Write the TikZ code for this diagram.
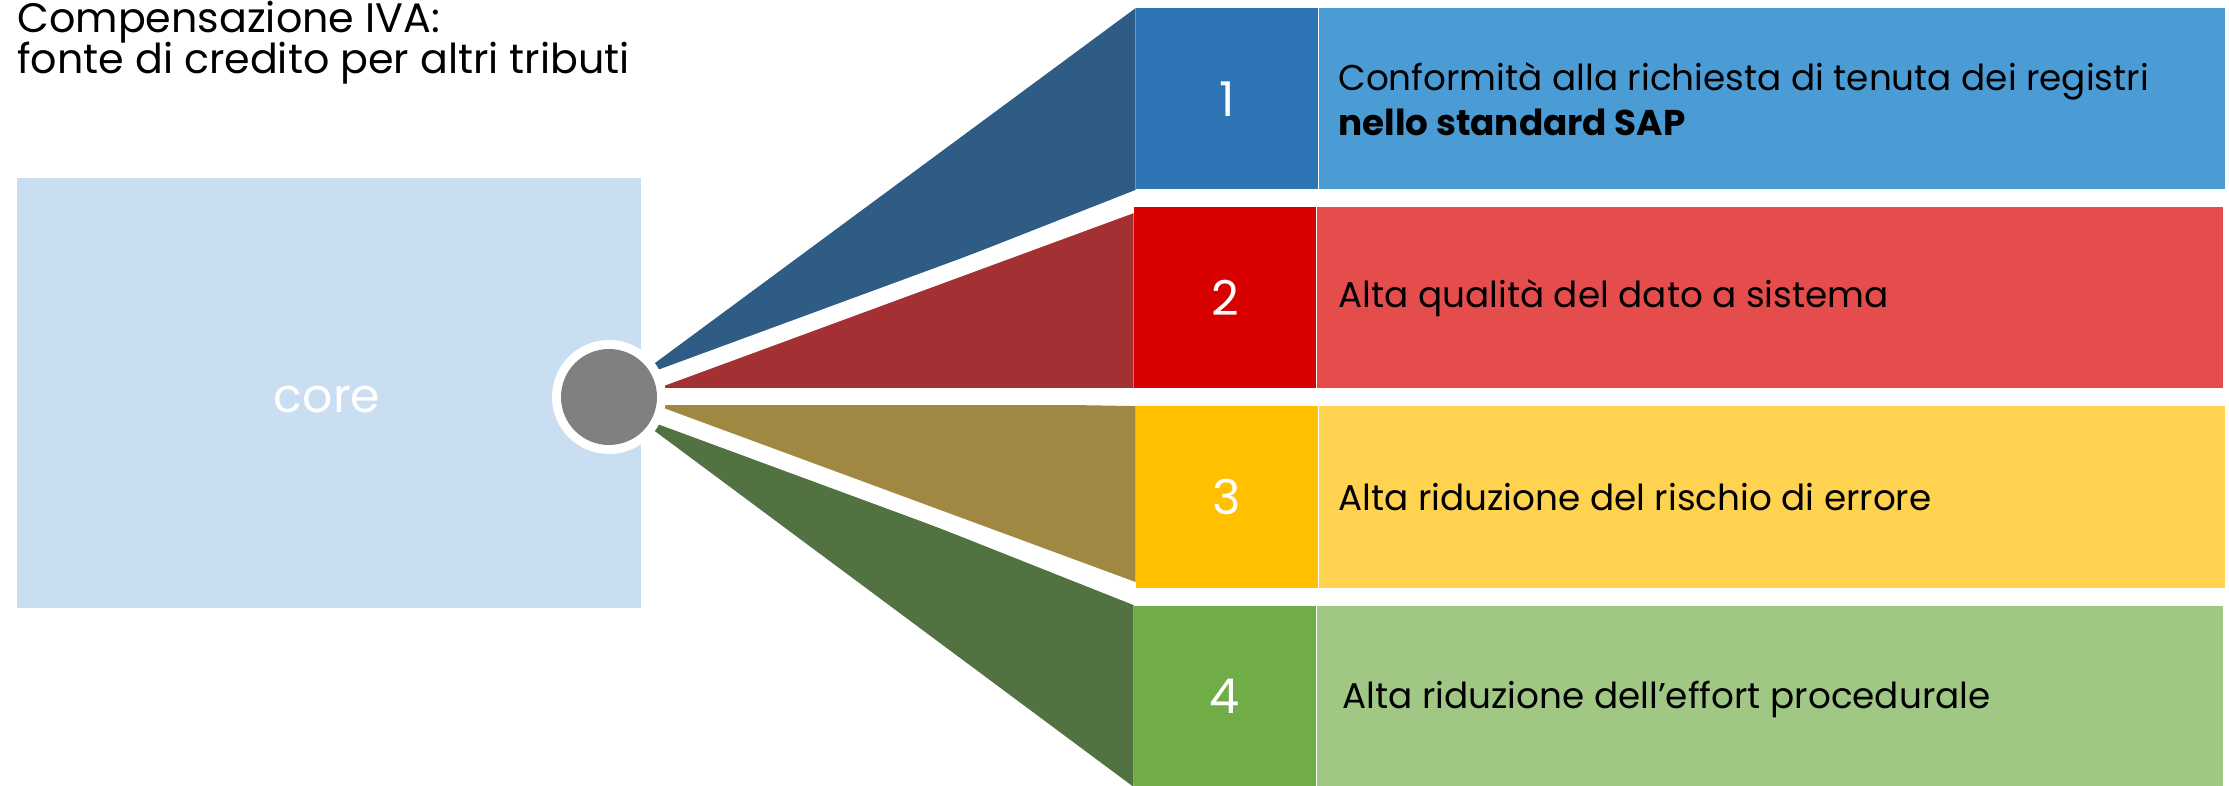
\documentclass[tikz,border=0pt]{standalone}
\usepackage{fontspec}
\setmainfont{Poppins}
\definecolor{corebg}{RGB}{202,222,241}
\definecolor{hubgray}{RGB}{128,128,128}
\definecolor{fanA}{RGB}{47,92,133}
\definecolor{darkA}{RGB}{46,117,182}
\definecolor{lightA}{RGB}{75,155,212}
\definecolor{fanB}{RGB}{163,48,51}
\definecolor{darkB}{RGB}{217,0,0}
\definecolor{lightB}{RGB}{229,77,77}
\definecolor{fanC}{RGB}{160,136,66}
\definecolor{darkC}{RGB}{255,192,0}
\definecolor{lightC}{RGB}{255,211,79}
\definecolor{fanD}{RGB}{83,114,66}
\definecolor{darkD}{RGB}{112,173,71}
\definecolor{lightD}{RGB}{160,200,132}
\tikzset{
  numbox/.style={inner sep=0pt, minimum width=91pt, minimum height=90.5pt, text=white, font=\fontsize{24pt}{26pt}\selectfont},
  txtbox/.style={inner sep=0pt, minimum width=453pt, minimum height=90.5pt},
  itemtext/.style={inner sep=0pt, anchor=west, align=left, text=black, font=\fontsize{17.9pt}{22.5pt}\selectfont},
  titletext/.style={inner sep=0pt, anchor=base west, text=black, font=\fontsize{20.6pt}{21pt}\selectfont},
  gapline/.style={white, line width=8.5pt},
}
\begin{document}
\begin{tikzpicture}[x=0.5pt,y=-0.5pt]
\useasboundingbox (0,0) rectangle (2229,786);
% core box
\node[fill=corebg, inner sep=0pt, minimum width=312pt, minimum height=215pt] (corebox) at (329,393) {};
\node[text=white, inner sep=0pt, font=\fontsize{23.7pt}{26pt}\selectfont] (coretext) at (327,399) {core};
% hub coordinate
\coordinate (hub) at (609,397);
% item boxes
\node[numbox, fill=darkA] (n1) at (1227,99) {1};
\node[numbox, fill=darkB] (n2) at (1225,298) {2};
\node[numbox, fill=darkC] (n3) at (1227,497) {3};
\node[numbox, fill=darkD] (n4) at (1225,696) {4};
% fans
\fill[fanA] (hub) -- (n1.north west) -- (n1.south west) -- cycle;
\fill[fanB] (hub) -- (n2.north west) -- (n2.south west) -- cycle;
\fill[fanC] (hub) -- (n3.north west) -- (n3.south west) -- cycle;
\fill[fanD] (hub) -- (n4.north west) -- (n4.south west) -- cycle;
% gaps
\coordinate (g1) at (1150,198);
\coordinate (g2) at (1150,397);
\coordinate (g3) at (1150,596.5);
\draw[gapline] (hub) -- (g1);
\draw[gapline] (hub) -- (g2);
\draw[gapline] (hub) -- (g3);
% hub circle
\node[circle, fill=white, inner sep=0pt, minimum size=57pt] (ring) at (hub) {};
\node[circle, fill=hubgray, inner sep=0pt, minimum size=48pt] (hubdot) at (hub) {};
% redraw item boxes on top
\node[numbox, fill=darkA] at (n1) {1};
\node[numbox, fill=darkB] at (n2) {2};
\node[numbox, fill=darkC] at (n3) {3};
\node[numbox, fill=darkD] at (n4) {4};
\node[txtbox, fill=lightA, anchor=west] (t1) at (n1.east) {};
\node[txtbox, fill=lightB, anchor=west] (t2) at (n2.east) {};
\node[txtbox, fill=lightC, anchor=west] (t3) at (n3.east) {};
\node[txtbox, fill=lightD, anchor=west] (t4) at (n4.east) {};
\node[itemtext] (l1) at (1338,99) {Conformità alla richiesta di tenuta dei registri\\\textbf{nello standard SAP}};
\node[itemtext] (l2) at (1338,298) {Alta qualità del dato a sistema};
\node[itemtext] (l3) at (1338,497) {Alta riduzione del rischio di errore};
\node[itemtext] (l4) at (1342,699) {Alta riduzione dell’effort procedurale};
% title
\node[titletext] (title1) at (17,33) {Compensazione IVA:};
\node[titletext] (title2) at (17,74) {fonte di credito per altri tributi};
\end{tikzpicture}
\end{document}
